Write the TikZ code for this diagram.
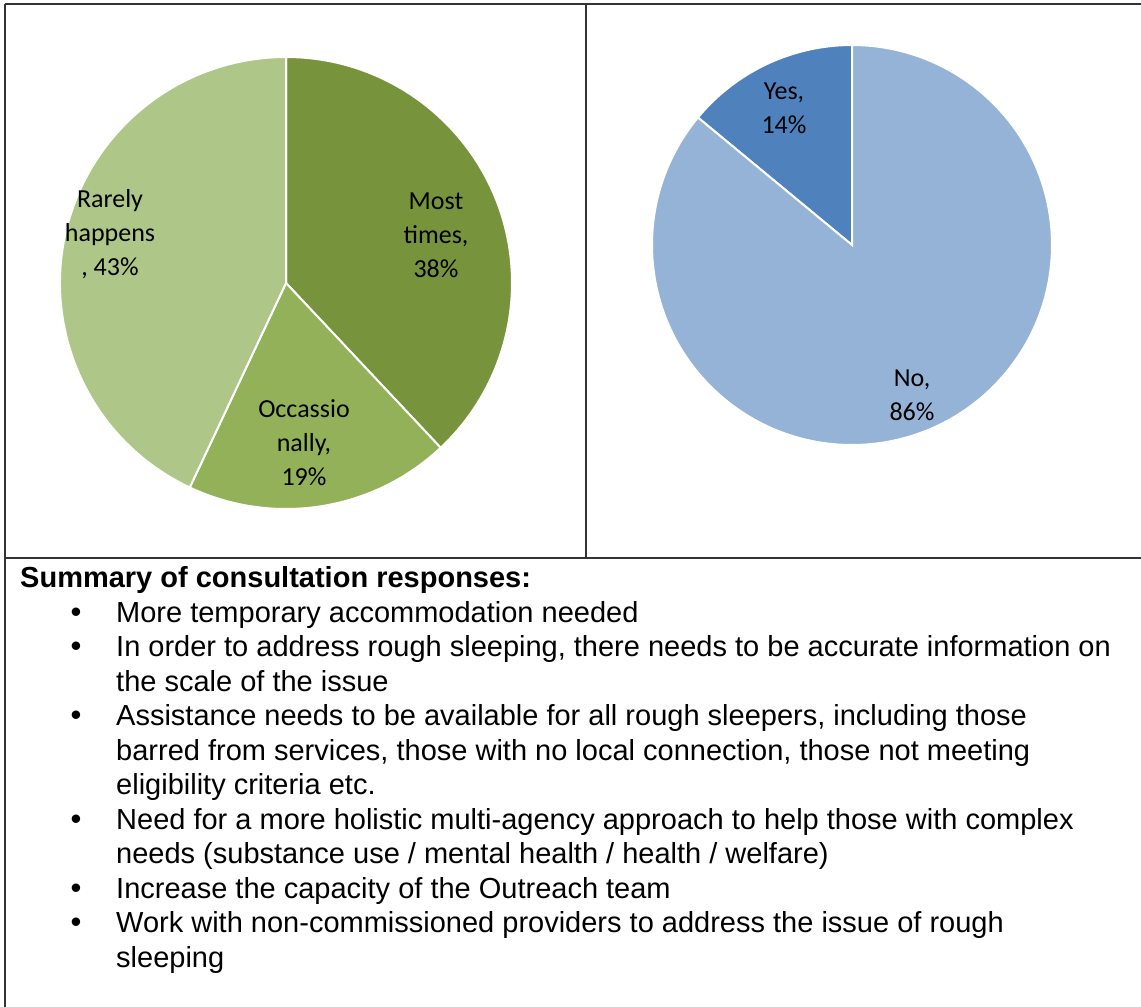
\documentclass[tikz,border=0pt]{standalone}
\usepackage{fontspec}
\setmainfont{Liberation Sans}
\newfontfamily\calibri{Carlito}
\usepackage{tikz}
\usetikzlibrary{positioning}

\definecolor{mostgreen}{HTML}{77933C}
\definecolor{occgreen}{HTML}{93B159}
\definecolor{rarelygreen}{HTML}{AEC687}
\definecolor{yesblue}{HTML}{4F81BD}
\definecolor{noblue}{HTML}{95B3D7}
\definecolor{rulegray}{HTML}{333333}

\tikzset{
  slice/.style = {draw=white, line width=2pt},
  pielabel/.style = {font=\calibri\fontsize{26}{34}\selectfont, align=center, inner sep=0pt},
  itemtext/.style = {anchor=base west, inner sep=0pt, font=\fontsize{29}{34.5}\selectfont},
  bulletmark/.style = {anchor=base, inner sep=0pt, font=\fontsize{31}{34.5}\selectfont},
  tablerule/.style = {draw=rulegray, line width=1.5pt},
}

\begin{document}
\begin{tikzpicture}[x=1pt, y=1pt]

    \useasboundingbox (0,0) rectangle (1141,-1007);

    % table lines
    \draw[tablerule] (5,-4) -- (1141,-4);
    \draw[tablerule] (5,-4) -- (5,-1007);
    \draw[tablerule] (586,-4) -- (586,-558);
    \draw[tablerule] (5,-558) -- (1141,-558);

    % left pie
    \coordinate (leftc) at (286,-283);
    \fill[mostgreen, slice] (leftc) -- ++(90:226) arc[start angle=90, end angle=-46.8, radius=226] -- cycle;
    \fill[occgreen, slice] (leftc) -- ++(-46.8:226) arc[start angle=-46.8, end angle=-115.2, radius=226] -- cycle;
    \fill[rarelygreen, slice] (leftc) -- ++(-115.2:226) arc[start angle=-115.2, end angle=-270, radius=226] -- cycle;

    \node[pielabel] (most) at (436,-235) {Most\\times,\\38\%};
    \node[pielabel] (occasionally) at (304,-443) {Occassio\\nally,\\19\%};
    \node[pielabel] (rarely) at (110,-234) {Rarely\\happens\\, 43\%};

    % right pie
    \coordinate (rightc) at (852,-245);
    \fill[yesblue, slice] (rightc) -- ++(90:200) arc[start angle=90, end angle=140.4, radius=200] -- cycle;
    \fill[noblue, slice] (rightc) -- ++(140.4:200) arc[start angle=140.4, end angle=450, radius=200] -- cycle;

    \node[pielabel] (yes) at (784,-108) {Yes,\\14\%};
    \node[pielabel] (no) at (912,-395) {No,\\86\%};

    % summary
    \node[itemtext, font=\bfseries\fontsize{29}{34.5}\selectfont] (summary) at (20,-587) {Summary of consultation responses:};

    \node[bulletmark] (bulleta) at (76,-622) {\textbullet};
    \node[itemtext] (itema) at (116,-622) {More temporary accommodation needed};

    \node[bulletmark] (bulletb) at (76,-656.5) {\textbullet};
    \node[itemtext] (itemb) at (116,-656.5) {In order to address rough sleeping, there needs to be accurate information on};
    \node[itemtext] (itembb) at (116,-691) {the scale of the issue};

    \node[bulletmark] (bulletc) at (76,-725.5) {\textbullet};
    \node[itemtext] (itemc) at (116,-725.5) {Assistance needs to be available for all rough sleepers, including those};
    \node[itemtext] (itemcb) at (116,-760) {barred from services, those with no local connection, those not meeting};
    \node[itemtext] (itemcc) at (116,-794.5) {eligibility criteria etc.};

    \node[bulletmark] (bulletd) at (76,-829) {\textbullet};
    \node[itemtext] (itemd) at (116,-829) {Need for a more holistic multi-agency approach to help those with complex};
    \node[itemtext] (itemdb) at (116,-863.5) {needs (substance use / mental health / health / welfare)};

    \node[bulletmark] (bullete) at (76,-898) {\textbullet};
    \node[itemtext] (iteme) at (116,-898) {Increase the capacity of the Outreach team};

    \node[bulletmark] (bulletf) at (76,-932.5) {\textbullet};
    \node[itemtext] (itemf) at (116,-932.5) {Work with non-commissioned providers to address the issue of rough};
    \node[itemtext] (itemfb) at (116,-967) {sleeping};

  \end{tikzpicture}
\end{document}
